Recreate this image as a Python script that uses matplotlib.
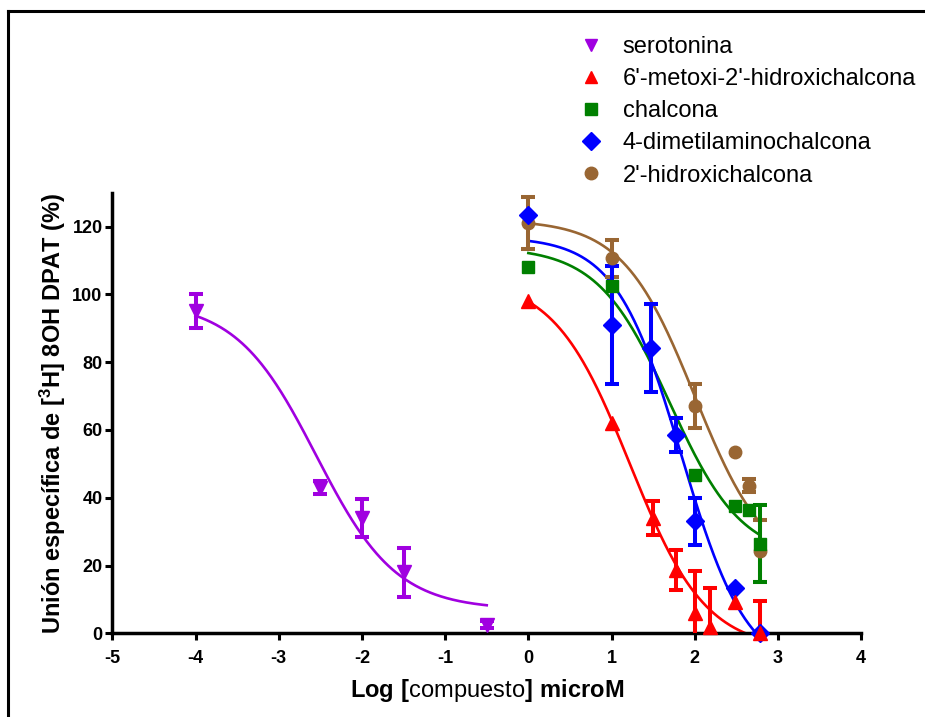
import numpy as np
import matplotlib
matplotlib.use("Agg")
import matplotlib.pyplot as plt
from matplotlib.lines import Line2D

plt.rcParams['font.family'] = ['Liberation Sans', 'DejaVu Sans']
plt.rcParams['mathtext.fontset'] = 'custom'
plt.rcParams['mathtext.rm'] = 'Liberation Sans'
plt.rcParams['mathtext.bf'] = 'Liberation Sans:bold'
plt.rcParams['axes.unicode_minus'] = False

# data: log concentration, % binding, error
names = ["serotonina", "6'-metoxi-2'-hidroxichalcona", "chalcona",
         "4-dimetilaminochalcona", "2'-hidroxichalcona"]
colors = ["#A000E0", "#FF0000", "#008000", "#0000FF", "#996633"]
markers = ["v", "^", "s", "D", "o"]

x_sero = [-4.0, -2.5, -2.0, -1.5, -0.5]
y_sero = [95.0, 43.0, 34.0, 18.0, 2.5]
e_sero = [5.0, 1.8, 5.5, 7.2, 1.0]

x_meto = [0.0, 1.0, 1.5, 1.78, 2.0, 2.18, 2.48, 2.78]
y_meto = [98.0, 62.0, 34.0, 18.7, 6.0, 2.0, 9.3, 0.0]
e_meto = [0.0, 0.0, 5.0, 5.8, 12.5, 11.5, 0.0, 9.6]

x_chal = [0.0, 1.0, 2.0, 2.48, 2.65, 2.78]
y_chal = [108.0, 102.5, 46.6, 37.7, 36.3, 26.5]
e_chal = [0.0, 0.0, 0.0, 0.0, 0.0, 11.5]

x_dime = [0.0, 1.0, 1.48, 1.78, 2.0, 2.48, 2.78]
y_dime = [123.5, 91.0, 84.3, 58.5, 33.0, 13.5, 0.0]
e_dime = [0.0, 17.5, 13.0, 5.0, 7.0, 0.0, 0.0]

x_hidr = [0.0, 1.0, 2.0, 2.48, 2.65, 2.78]
y_hidr = [121.0, 110.6, 67.2, 53.4, 43.6, 24.3]
e_hidr = [7.7, 5.5, 6.5, 0.0, 2.0, 9.2]

# sigmoid fits: top, bottom, logIC50, hill slope, x range
fit_sero = [98.0, 7.0, -2.55, 0.9, -4.0, -0.5]
fit_meto = [105.0, -5.0, 1.22, 0.95, 0.0, 2.78]
fit_chal = [114.0, 22.0, 1.7, 1.0, 0.0, 2.78]
fit_dime = [117.0, -12.0, 1.84, 1.1, 0.0, 2.78]
fit_hidr = [122.0, 18.0, 2.0, 1.0, 0.0, 2.78]

series = [
    (x_sero, y_sero, e_sero, fit_sero),
    (x_meto, y_meto, e_meto, fit_meto),
    (x_chal, y_chal, e_chal, fit_chal),
    (x_dime, y_dime, e_dime, fit_dime),
    (x_hidr, y_hidr, e_hidr, fit_hidr),
]


def sigmoid(x, top, bottom, logec, hill):
    return bottom + (top - bottom) / (1 + 10 ** ((x - logec) * hill))


fig = plt.figure(figsize=(9.25, 7.17), dpi=100)
ax = fig.add_axes([0.1214, 0.1167, 0.8096, 0.6145])

draw_order = [0, 4, 2, 3, 1]
for i in draw_order:
    xs, ys, es, fit = series[i]
    c = colors[i]
    xx = np.linspace(fit[4], fit[5], 300)
    ax.plot(xx, sigmoid(xx, *fit[:4]), color=c, lw=1.9, zorder=2)
    xe = [x for x, e in zip(xs, es) if e > 0]
    ye = [y for y, e in zip(ys, es) if e > 0]
    ee = [e for e in es if e > 0]
    ax.errorbar(xe, ye, yerr=ee, fmt='none', ecolor=c, elinewidth=2.9,
                capsize=5, capthick=2.9, zorder=3)
    ms = 10 if markers[i] in "v^" else 9
    ax.plot(xs, ys, linestyle='none', marker=markers[i], color=c,
            markersize=ms, clip_on=False, zorder=4)

ax.set_xlim(-5, 4)
ax.set_ylim(0, 130)
ax.set_xticks(range(-5, 5))
ax.set_yticks(range(0, 121, 20))
for s in ['top', 'right']:
    ax.spines[s].set_visible(False)
for s in ['left', 'bottom']:
    ax.spines[s].set_linewidth(2.5)
ax.tick_params(direction='out', length=5, width=2.2, labelsize=13)
ax.tick_params(axis='x', pad=7)
ax.tick_params(axis='y', pad=2)
for lab in ax.get_xticklabels() + ax.get_yticklabels():
    lab.set_fontweight('bold')

ax.set_xlabel(r'$\mathbf{Log\ [}$compuesto$\mathbf{]\ microM}$', fontsize=17,
              labelpad=7)
ax.set_ylabel(r'Unión específica de [$\mathbf{^3}$H] 8OH DPAT (%)',
              fontsize=17, fontweight='bold', labelpad=3)

handles = [Line2D([], [], linestyle='none', marker=m, color=c, markersize=9)
           for m, c in zip(markers, colors)]
fig.legend(handles, names, loc='upper left', bbox_to_anchor=(0.6135, 0.963),
           frameon=False, fontsize=17, labelspacing=0.43, handletextpad=0.73,
           handlelength=1.2, borderaxespad=0)

# frame line around the image
fig.add_artist(Line2D([8 / 925, 1.0], [1 - 11 / 717, 1 - 11 / 717],
                      color='black', lw=2.2, transform=fig.transFigure))
fig.add_artist(Line2D([8 / 925, 8 / 925], [0, 1 - 11 / 717],
                      color='black', lw=2.2, transform=fig.transFigure))

fig.savefig("out.png", dpi=100)
